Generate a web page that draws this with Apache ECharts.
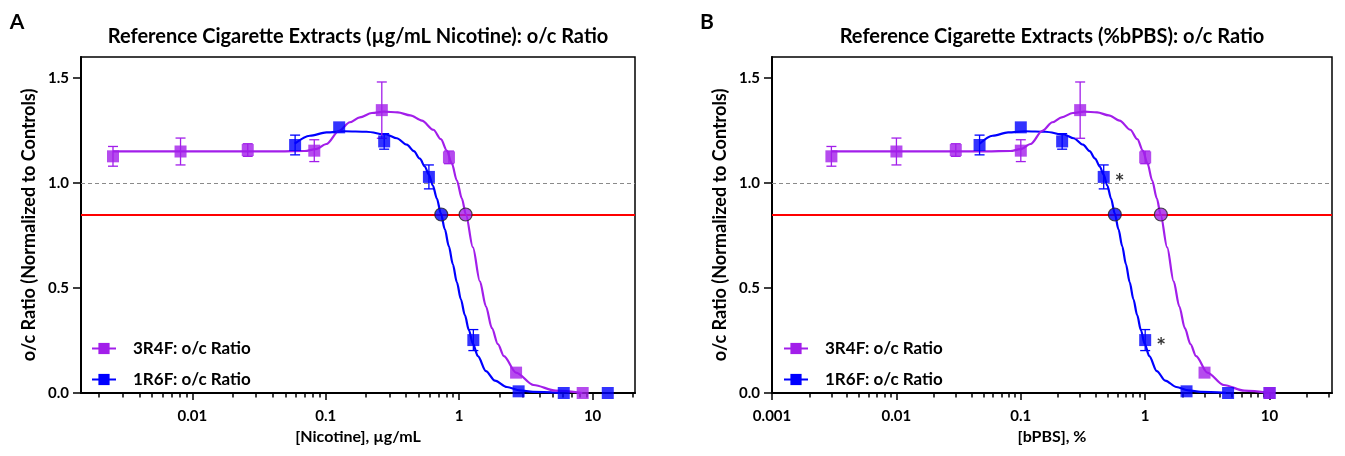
<!DOCTYPE html>
<html><head><meta charset="utf-8">
<script src="https://cdn.jsdelivr.net/npm/echarts@6/dist/echarts.min.js"></script>
<style>html,body{margin:0;padding:0;background:#fff}#c{width:1345px;height:456px}</style>
</head><body><div id="c"></div>
<script>
// ---------- Panel A : [Nicotine], µg/mL ----------
const concA_3R4F  = [0.00254, 0.00815, 0.026, 0.082, 0.263, 0.838, 2.67, 8.43];
const ratioA_3R4F = [1.127, 1.150, 1.157, 1.154, 1.347, 1.122, 0.097, 0.0];
const errA_3R4F   = [0.047, 0.064, 0.030, 0.052, 0.134, 0.030, 0, 0];
const concA_1R6F  = [0.0589, 0.126, 0.274, 0.593, 1.277, 2.79, 6.08, 13.0];
const ratioA_1R6F = [1.181, 1.265, 1.198, 1.029, 0.252, 0.008, 0.0, 0.0];
const errA_1R6F   = [0.047, 0, 0.037, 0.057, 0.050, 0, 0, 0];
// fitted curves
const fitA_3R4F_x = [0.002537,0.01134,0.04517,0.06959,0.08414,0.1012,0.1258,0.1514,0.1799,0.2213,0.2723,0.3468,0.4303,0.5251,0.6404,0.7292,0.8085,0.8815,0.9610,1.0478,1.1228,1.2670,1.4297,1.5860,1.7592,1.9513,2.1646,2.6628,3.6148,5.2966,8.3697];
const fitA_3R4F_y = [1.1505,1.1505,1.1505,1.1524,1.1610,1.1857,1.2488,1.2892,1.3129,1.3333,1.3400,1.3362,1.3224,1.2972,1.2536,1.2085,1.1538,1.0921,1.0114,0.9259,0.8500,0.6933,0.5318,0.4131,0.3086,0.2327,0.1757,0.0973,0.0380,0.0109,0.0];
const fitA_1R6F_x = [0.05851,0.07586,0.1012,0.1388,0.2020,0.2869,0.3408,0.4052,0.4572,0.5073,0.5530,0.5925,0.6349,0.6803,0.7292,0.7811,0.8370,0.8968,0.9610,1.0299,1.1036,1.1826,1.2670,1.3812,1.5860,1.8531,2.2801,2.8537,3.5722,5.6950];
const fitA_1R6F_y = [1.1871,1.2251,1.2407,1.2464,1.2441,1.2298,1.2132,1.1823,1.1515,1.1159,1.0779,1.0399,0.9877,0.9259,0.8547,0.7787,0.6980,0.6125,0.5271,0.4463,0.3704,0.2991,0.2350,0.1757,0.1045,0.0594,0.0285,0.0128,0.0057,0.0009];
const icA_x = [1.117, 0.734];   // 3R4F, 1R6F where the fit crosses the threshold
// ---------- Panel B : [bPBS], % ----------
const concB_3R4F  = [0.003, 0.01, 0.03, 0.1, 0.3, 1, 3, 10];
const ratioB_3R4F = [1.127, 1.150, 1.157, 1.154, 1.347, 1.122, 0.097, 0.0];
const errB_3R4F   = [0.047, 0.064, 0.030, 0.052, 0.134, 0.030, 0, 0];
const concB_1R6F  = [0.0466, 0.1, 0.215, 0.464, 1.0, 2.15, 4.64, 10];
const ratioB_1R6F = [1.181, 1.265, 1.198, 1.029, 0.252, 0.008, 0.0, 0.0];
const errB_1R6F   = [0.047, 0, 0.037, 0.057, 0.050, 0, 0, 0];
const sigB_1R6F   = ['', '', '', '*', '*', '', '', ''];
const fitB_3R4F_x = [0.003,0.01344,0.05353,0.08246,0.09971,0.1199,0.1491,0.1794,0.2132,0.2622,0.3227,0.4110,0.5099,0.6222,0.7589,0.8641,0.9581,1.0446,1.1388,1.2416,1.3305,1.5014,1.6942,1.8794,2.0847,2.3123,2.5651,3.1554,4.2835,6.2765,10];
const fitB_3R4F_y = [1.1505,1.1505,1.1505,1.1524,1.1610,1.1857,1.2488,1.2892,1.3129,1.3333,1.3400,1.3362,1.3224,1.2972,1.2536,1.2085,1.1538,1.0921,1.0114,0.9259,0.8500,0.6933,0.5318,0.4131,0.3086,0.2327,0.1757,0.0973,0.0380,0.0109,0.0];
const fitB_1R6F_x = [0.0466,0.05927,0.07906,0.1084,0.1578,0.2241,0.2663,0.3166,0.3572,0.3963,0.4320,0.4629,0.4960,0.5315,0.5697,0.6102,0.6539,0.7006,0.7508,0.8046,0.8622,0.9239,0.9898,1.0791,1.2391,1.4477,1.7813,2.2295,2.7908,4.4492];
const fitB_1R6F_y = [1.1871,1.2251,1.2407,1.2464,1.2441,1.2298,1.2132,1.1823,1.1515,1.1159,1.0779,1.0399,0.9877,0.9259,0.8547,0.7787,0.6980,0.6125,0.5271,0.4463,0.3704,0.2991,0.2350,0.1757,0.1045,0.0594,0.0285,0.0128,0.0057,0.0009];
const icB_x = [1.337, 0.570];
// ---------- shared ----------
const threshold = 0.85;
const reference = 1.0;
const seriesNames = ['3R4F: o/c Ratio', '1R6F: o/c Ratio'];
const yTicks = [0, 0.5, 1.0, 1.5];
const yTickLabels = ['0.0', '0.5', '1.0', '1.5'];
const xMajorA = [0.01, 0.1, 1, 10];
const xLabelsA = ['0.01', '0.1', '1', '10'];
const xMinorA = [0.002,0.003,0.004,0.005,0.006,0.007,0.008,0.009,0.02,0.03,0.04,0.05,0.06,0.07,0.08,0.09,0.2,0.3,0.4,0.5,0.6,0.7,0.8,0.9,2,3,4,5,6,7,8,9,20];
const xMajorB = [0.001, 0.01, 0.1, 1, 10];
const xLabelsB = ['0.001', '0.01', '0.1', '1', '10'];
const xMinorB = [0.002,0.003,0.004,0.005,0.006,0.007,0.008,0.009,0.02,0.03,0.04,0.05,0.06,0.07,0.08,0.09,0.2,0.3,0.4,0.5,0.6,0.7,0.8,0.9,2,3,4,5,6,7,8,9,20,30];
const titles = ['Reference Cigarette Extracts (µg/mL Nicotine): o/c Ratio', 'Reference Cigarette Extracts (%bPBS): o/c Ratio'];
const xNames = ['[Nicotine], µg/mL', '[bPBS], %'];
const yName = 'o/c Ratio (Normalized to Controls)';
const panelLetters = ['A', 'B'];

const PURPLE = '#a21eea', BLUE = '#0000ff';
const FONT = 'Lato, "Open Sans", sans-serif';
const zip = (a, b) => a.map((v, i) => [v, b[i]]);
const zip3 = (a, b, c) => a.map((v, i) => [v, b[i], c[i]]);

const chart = echarts.init(document.getElementById('c'), null, {renderer: 'canvas'});

const grids = [
  {left: 81, top: 57, width: 554, height: 336, show: true, borderColor: '#000', borderWidth: 1.5},
  {left: 772, top: 57, width: 560, height: 336, show: true, borderColor: '#000', borderWidth: 1.5}
];
const xRanges = [[Math.pow(10, -2.835), Math.pow(10, 1.318)], [0.000999, Math.pow(10, 1.502)]];
const majors = [xMajorA, xMajorB], labelsX = [xLabelsA, xLabelsB], minors = [xMinorA, xMinorB];

const xAxes = [], yAxes = [];
for (let p = 0; p < 2; p++) {
  const lab = labelsX[p], maj = majors[p];
  xAxes.push({
    type: 'log', logBase: 10, gridIndex: p, position: 'bottom',
    min: xRanges[p][0], max: xRanges[p][1],
    axisLine: {show: true, onZero: false, lineStyle: {color: '#000', width: 2}},
    axisTick: {show: true, length: 7, lineStyle: {color: '#000', width: 1.5}, customValues: maj},
    axisLabel: {customValues: maj, margin: 16, color: '#000', fontSize: 15, fontWeight: 'bold', fontFamily: FONT,
      formatter: v => { let best = 0; maj.forEach((m, i) => { if (Math.abs(Math.log10(m) - Math.log10(v)) < Math.abs(Math.log10(maj[best]) - Math.log10(v))) best = i; }); return lab[best]; }},
    splitLine: {show: false},
    name: xNames[p], nameLocation: 'middle', nameGap: 35,
    nameTextStyle: {color: '#000', fontSize: 16, fontWeight: 'bold', fontFamily: FONT}
  });
  xAxes.push({
    type: 'log', logBase: 10, gridIndex: p, position: 'bottom',
    min: xRanges[p][0], max: xRanges[p][1],
    axisLine: {show: false, onZero: false},
    axisTick: {show: true, length: 4.5, lineStyle: {color: '#000', width: 1.5}, customValues: minors[p]},
    axisLabel: {show: false},
    splitLine: {show: false}
  });
  yAxes.push({
    type: 'value', gridIndex: p, min: 0, max: 1.6,
    axisLine: {show: true, onZero: false, lineStyle: {color: '#000', width: 2}},
    axisTick: {show: true, length: 8, lineStyle: {color: '#000', width: 1.5}, customValues: yTicks},
    axisLabel: {customValues: yTicks, margin: 12, color: '#000', fontSize: 15, fontWeight: 'bold', fontFamily: FONT,
      formatter: v => yTickLabels[yTicks.findIndex(t => Math.abs(t - v) < 1e-6)]},
    splitLine: {show: false},
    name: yName, nameLocation: 'middle', nameGap: 43,
    nameTextStyle: {color: '#000', fontSize: 18, fontWeight: 'bold', fontFamily: FONT}
  });
}

function errRender(color) {
  return function (params, api) {
    const x = api.value(0), y = api.value(1), e = api.value(2);
    if (!e) return null;
    const t = api.coord([x, y + e]), b = api.coord([x, y - e]);
    const cw = 5, st = {stroke: color, lineWidth: 1.3};
    return {type: 'group', children: [
      {type: 'line', shape: {x1: t[0], y1: t[1], x2: b[0], y2: b[1]}, style: st},
      {type: 'line', shape: {x1: t[0] - cw, y1: t[1], x2: t[0] + cw, y2: t[1]}, style: st},
      {type: 'line', shape: {x1: b[0] - cw, y1: b[1], x2: b[0] + cw, y2: b[1]}, style: st}
    ]};
  };
}

const series = [
  {type: 'line', name: seriesNames[0], data: [], symbol: 'rect', color: PURPLE, lineStyle: {width: 2, color: PURPLE}, xAxisIndex: 0, yAxisIndex: 0},
  {type: 'line', name: seriesNames[1], data: [], symbol: 'rect', color: BLUE, lineStyle: {width: 2, color: BLUE}, xAxisIndex: 0, yAxisIndex: 0}
];

const panels = [
  {c3: concA_3R4F, r3: ratioA_3R4F, e3: errA_3R4F, c1: concA_1R6F, r1: ratioA_1R6F, e1: errA_1R6F,
   f3x: fitA_3R4F_x, f3y: fitA_3R4F_y, f1x: fitA_1R6F_x, f1y: fitA_1R6F_y, ic: icA_x, sig: null},
  {c3: concB_3R4F, r3: ratioB_3R4F, e3: errB_3R4F, c1: concB_1R6F, r1: ratioB_1R6F, e1: errB_1R6F,
   f3x: fitB_3R4F_x, f3y: fitB_3R4F_y, f1x: fitB_1R6F_x, f1y: fitB_1R6F_y, ic: icB_x, sig: sigB_1R6F}
];

panels.forEach((P, p) => {
  const xi = 2 * p, yi = p;
  series.push({
    type: 'line', data: [], xAxisIndex: xi, yAxisIndex: yi, silent: true, z: 1,
    markLine: {silent: true, symbol: ['none', 'none'], label: {show: false}, animation: false, z: 1,
      data: [
        {yAxis: reference, lineStyle: {color: '#8a8a8a', width: 1.2, type: [4, 3]}},
        {yAxis: threshold, lineStyle: {color: '#ff0000', width: 2, type: 'solid'}}
      ]}
  });
  series.push({type: 'line', data: zip(P.f1x, P.f1y), xAxisIndex: xi, yAxisIndex: yi, showSymbol: false, symbol: 'none',
    smooth: 0.3, smoothMonotone: 'x', lineStyle: {color: BLUE, width: 2.2}, z: 6, silent: true});
  series.push({type: 'line', data: zip(P.f3x, P.f3y), xAxisIndex: xi, yAxisIndex: yi, showSymbol: false, symbol: 'none',
    smooth: 0.3, smoothMonotone: 'x', lineStyle: {color: PURPLE, width: 2.2}, z: 6, silent: true});
  series.push({type: 'custom', renderItem: errRender(BLUE), data: zip3(P.c1, P.r1, P.e1), xAxisIndex: xi, yAxisIndex: yi,
    encode: {x: 0, y: 1}, z: 7, silent: true, clip: false});
  series.push({type: 'custom', renderItem: errRender(PURPLE), data: zip3(P.c3, P.r3, P.e3), xAxisIndex: xi, yAxisIndex: yi,
    encode: {x: 0, y: 1}, z: 7, silent: true, clip: false});
  series.push({type: 'scatter', data: zip(P.c1, P.r1), xAxisIndex: xi, yAxisIndex: yi, symbol: 'rect', symbolSize: 12,
    itemStyle: {color: BLUE}, z: 8, clip: false, silent: true});
  series.push({type: 'scatter', data: zip(P.c3, P.r3), xAxisIndex: xi, yAxisIndex: yi, symbol: 'rect', symbolSize: 12,
    itemStyle: {color: PURPLE}, z: 9, clip: false, silent: true});
  series.push({type: 'scatter', xAxisIndex: xi, yAxisIndex: yi, symbol: 'circle', symbolSize: 13, z: 10, silent: true,
    data: [
      {value: [P.ic[1], threshold], itemStyle: {color: BLUE, borderColor: '#222', borderWidth: 1.2}},
      {value: [P.ic[0], threshold], itemStyle: {color: PURPLE, borderColor: '#222', borderWidth: 1.2}}
    ]});
  if (P.sig) {
    const d = [];
    P.sig.forEach((s, i) => { if (s) d.push({value: [P.c1[i], P.r1[i]], label: {formatter: s}}); });
    series.push({type: 'scatter', data: d, xAxisIndex: xi, yAxisIndex: yi, symbolSize: 0.1, z: 11, silent: true,
      label: {show: true, position: 'right', distance: 11, offset: [0, 6], color: '#000', fontSize: 23, fontWeight: 'bold', fontFamily: FONT}});
  }
});

const legendCommon = {
  orient: 'vertical', itemWidth: 24, itemHeight: 14, itemGap: 14, selectedMode: false,
  textStyle: {color: '#000', fontSize: 17, fontWeight: 'bold', fontFamily: FONT, padding: [0, 0, 0, 12]},
  data: seriesNames
};

const graphics = [];
[[17, 358], [707, 1052]].forEach((pos, p) => {
  graphics.push({type: 'text', x: pos[0], y: 22, style: {text: panelLetters[p], align: 'center', verticalAlign: 'middle',
    font: 'bold 21px ' + FONT, fill: '#000'}});
  graphics.push({type: 'text', x: pos[1], y: 37, style: {text: titles[p], align: 'center', verticalAlign: 'middle',
    font: 'bold 20px ' + FONT, fill: '#000'}});
});

chart.setOption({
  animation: false,
  backgroundColor: '#fff',
  grid: grids,
  xAxis: xAxes,
  yAxis: yAxes,
  legend: [
    Object.assign({left: 86, top: 335}, legendCommon),
    Object.assign({left: 778, top: 335}, legendCommon)
  ],
  graphic: graphics,
  series: series
});
</script>
</body></html>
